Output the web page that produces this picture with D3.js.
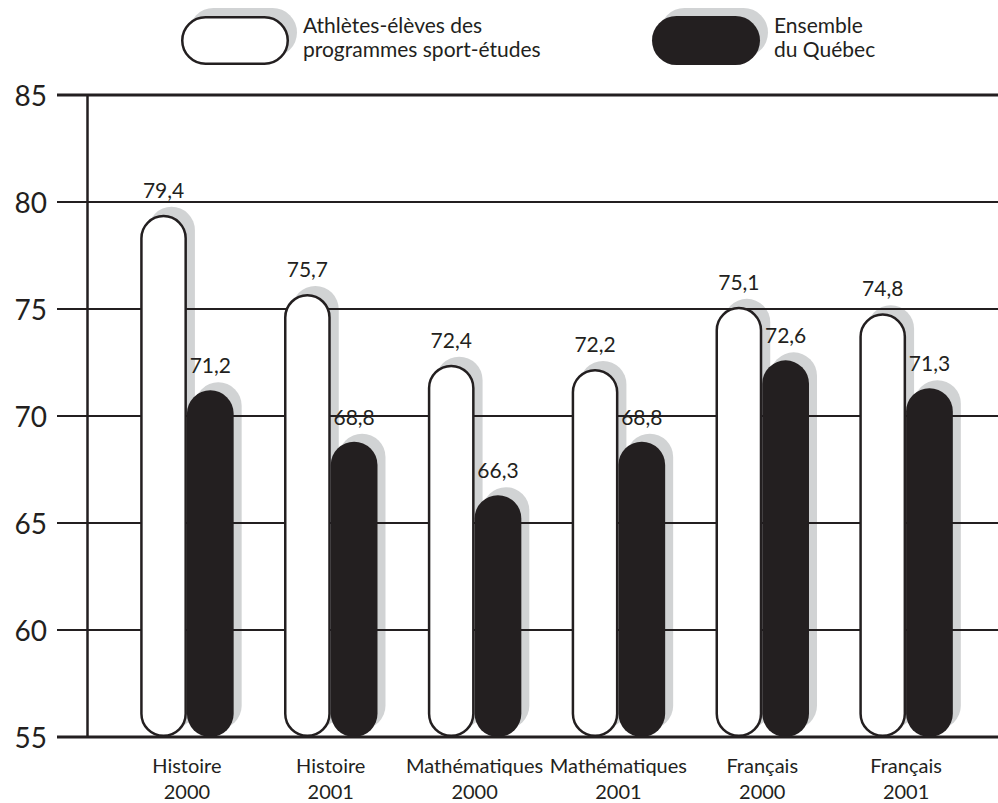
<!DOCTYPE html>
<html lang="fr">
<head>
<meta charset="UTF-8">
<title>Sport-études vs Ensemble du Québec</title>
<script src="https://d3js.org/d3.v7.min.js"></script>
<style>
  body { margin: 0; background: #fff; }
  svg { display: block; font-family: Lato, "Open Sans", sans-serif; }
</style>
</head>
<body>
<svg id="chart" width="998" height="803"></svg>
<script>
// data
const categories = ["Histoire|2000", "Histoire|2001", "Mathématiques|2000",
                    "Mathématiques|2001", "Français|2000", "Français|2001"];
const seriesNames = ["Athlètes-élèves des|programmes sport-études", "Ensemble|du Québec"];
const athletes = [79.4, 75.7, 72.4, 72.2, 75.1, 74.8];
const quebec   = [71.2, 68.8, 66.3, 68.8, 72.6, 71.3];
const yTicks = [55, 60, 65, 70, 75, 80, 85];

const ink = "#231f20", shade = "#d1d3d4";
const svg = d3.select("#chart");

const x = d3.scaleBand().domain(d3.range(categories.length))
    .range([115, 978]).paddingInner(0.35).paddingOuter(0.175);
const xs = d3.scaleBand().domain([0, 1]).range([0, x.bandwidth()]);
const y = d3.scaleLinear().domain([55, 85]).range([737, 95]);

const bars = [];
categories.forEach((c, i) => {
  bars.push({ i, s: 0, v: athletes[i] });
  bars.push({ i, s: 1, v: quebec[i] });
});
const bw = xs.bandwidth();
const bx = d => x(d.i) + xs(d.s);

// shadows
svg.append("g").selectAll("rect").data(bars).join("rect")
  .attr("x", d => bx(d) + 8)
  .attr("y", d => y(d.v) - 8)
  .attr("width", bw)
  .attr("height", d => y(55) - y(d.v))
  .attr("rx", bw / 2)
  .attr("fill", shade);

// grid lines
svg.append("g").selectAll("line").data(yTicks.slice(1, -1)).join("line")
  .attr("x1", 57).attr("x2", 998)
  .attr("y1", d => y(d)).attr("y2", d => y(d))
  .attr("stroke", ink).attr("stroke-width", 2);

// bars
svg.append("g").selectAll("rect").data(bars).join("rect")
  .attr("x", d => bx(d) + (d.s === 0 ? 1.25 : 0))
  .attr("y", d => y(d.v) + (d.s === 0 ? 1.25 : 0))
  .attr("width", d => d.s === 0 ? bw - 2.5 : bw)
  .attr("height", d => y(55) - y(d.v) - (d.s === 0 ? 2.5 : 0))
  .attr("rx", d => (d.s === 0 ? bw - 2.5 : bw) / 2)
  .attr("fill", d => d.s === 0 ? "#fff" : ink)
  .attr("stroke", d => d.s === 0 ? ink : "none")
  .attr("stroke-width", 2.5);

// top and bottom lines
svg.append("g").selectAll("line").data([55, 85]).join("line")
  .attr("x1", 57).attr("x2", 998)
  .attr("y1", d => y(d)).attr("y2", d => y(d))
  .attr("stroke", ink).attr("stroke-width", 3);

// y axis
const yAxis = svg.append("g").attr("transform", "translate(87,0)")
  .call(d3.axisLeft(y).tickValues(yTicks).tickSize(0).tickPadding(40));
yAxis.select(".domain").attr("stroke", ink).attr("stroke-width", 2.5);
yAxis.selectAll("text").attr("font-size", 28).attr("fill", ink)
  .attr("font-family", "Lato, sans-serif").attr("dy", "0.36em");

// value labels
svg.append("g").selectAll("text").data(bars).join("text")
  .attr("x", d => bx(d) + bw / 2)
  .attr("y", d => y(d.v) - 17)
  .attr("text-anchor", "middle")
  .attr("font-size", 21).attr("fill", ink)
  .text(d => d3.format(".1f")(d.v).replace(".", ","));

// category labels
const cat = svg.append("g").selectAll("text").data(categories).join("text")
  .attr("text-anchor", "middle").attr("font-size", 20).attr("fill", ink);
cat.each(function(c, i) {
  c.split("|").forEach((t, k) => {
    d3.select(this).append("tspan")
      .attr("x", x(i) + x.bandwidth() / 2)
      .attr("y", 773 + k * 26)
      .text(t);
  });
});

// legend
const legendX = [181, 652];
const lg = svg.append("g").selectAll("g").data(seriesNames).join("g")
  .attr("transform", (d, i) => `translate(${legendX[i]},16)`);
lg.append("rect").attr("x", 8).attr("y", -8).attr("width", 108).attr("height", 49)
  .attr("rx", 24.5).attr("fill", shade);
lg.append("rect")
  .attr("x", (d, i) => i === 0 ? 1.25 : 0).attr("y", (d, i) => i === 0 ? 1.25 : 0)
  .attr("width", (d, i) => i === 0 ? 105.5 : 108)
  .attr("height", (d, i) => i === 0 ? 46.5 : 49)
  .attr("rx", (d, i) => i === 0 ? 23.25 : 24.5)
  .attr("fill", (d, i) => i === 0 ? "#fff" : ink)
  .attr("stroke", (d, i) => i === 0 ? ink : "none")
  .attr("stroke-width", 2.5);
lg.append("text").attr("font-size", 21).attr("fill", ink)
  .each(function(d) {
    d.split("|").forEach((t, k) => {
      d3.select(this).append("tspan").attr("x", 122).attr("y", 17 + k * 24).text(t);
    });
  });
</script>
</body>
</html>
